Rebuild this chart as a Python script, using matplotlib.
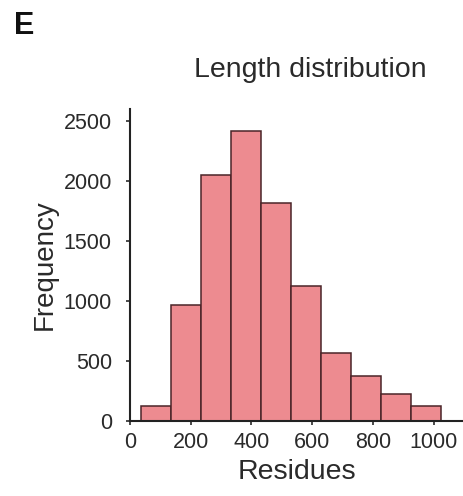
import numpy as np
import matplotlib
matplotlib.use('Agg')
import matplotlib.pyplot as plt

plt.rcParams['font.family'] = ['Liberation Sans', 'DejaVu Sans']

# histogram
bin_edges = [35, 134, 233, 332, 431, 530, 629, 728, 827, 926, 1025]
counts = [125, 965, 2055, 2420, 1820, 1130, 570, 380, 228, 130]
x_ticks = [0, 200, 400, 600, 800, 1000]
y_ticks = [0, 500, 1000, 1500, 2000, 2500]

fig = plt.figure(figsize=(4.64, 4.96), dpi=100)
ax = fig.add_axes([0.280, 0.151, 0.72, 0.629])

edges = np.array(bin_edges)
ax.bar(edges[:-1], counts, width=np.diff(edges), align='edge',
       color='#ed8b90', edgecolor='#4a2428', linewidth=1.1)

ax.set_xlim(0, 1100)
ax.set_ylim(0, 2600)
ax.set_xticks(x_ticks)
ax.set_yticks(y_ticks)
ax.tick_params(direction='out', length=3, width=1.2, labelsize=15.5,
               colors='#2a2a2a')
ax.tick_params(axis='y', pad=10)
ax.tick_params(axis='x', pad=5)

for s in ['top', 'right']:
    ax.spines[s].set_visible(False)
for s in ['left', 'bottom']:
    ax.spines[s].set_linewidth(1.5)
    ax.spines[s].set_color('#222222')

ax.set_xlabel('Residues', fontsize=20.5, color='#2a2a2a', labelpad=4)
ax.set_ylabel('Frequency', fontsize=20, color='#2a2a2a', labelpad=4)

fig.text(310 / 464, 1 - 70 / 496, 'Length distribution', fontsize=20.5,
         ha='center', va='center', color='#2a2a2a')
fig.text(14 / 464, 1 - 26 / 496, 'E', fontsize=22, fontweight='bold',
         ha='left', va='center', color='#111111')

fig.savefig('out.png', dpi=100)
